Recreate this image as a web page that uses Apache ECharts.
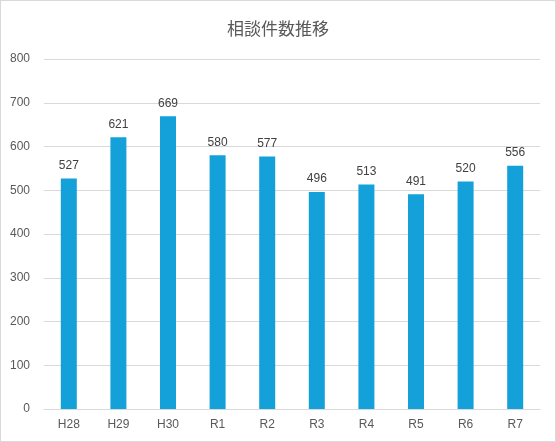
<!DOCTYPE html>
<html><head><meta charset="utf-8">
<script src="https://cdn.jsdelivr.net/npm/echarts@6/dist/echarts.min.js"></script>
<style>html,body{margin:0;padding:0;background:#fff}#c{width:556px;height:442px;box-sizing:border-box;border:1px solid #d9d9d9}</style>
</head><body><div id="c"></div>
<script>
const categories=['H28','H29','H30','R1','R2','R3','R4','R5','R6','R7'];
const values=[527,621,669,580,577,496,513,491,520,556];
const chart=echarts.init(document.getElementById('c'));
chart.setOption({
  animation:false,
  title:{text:'相談件数推移',left:'center',top:14,textStyle:{fontFamily:'Noto Sans CJK JP',fontSize:17,fontWeight:'normal',color:'#595959'}},
  grid:{left:43,right:15,top:58,bottom:32},
  xAxis:{type:'category',data:categories,axisTick:{show:false},axisLine:{lineStyle:{color:'#d9d9d9'}},axisLabel:{color:'#595959',fontSize:12,margin:10}},
  yAxis:{type:'value',min:0,max:800,interval:100,axisLabel:{color:'#595959',fontSize:12,margin:14},splitLine:{lineStyle:{color:'#d9d9d9'}}},
  series:[{type:'bar',data:values,barWidth:16,itemStyle:{color:'#14a0d9'},label:{show:true,position:'top',color:'#404040',fontSize:12,distance:7}}]
});
</script></body></html>
